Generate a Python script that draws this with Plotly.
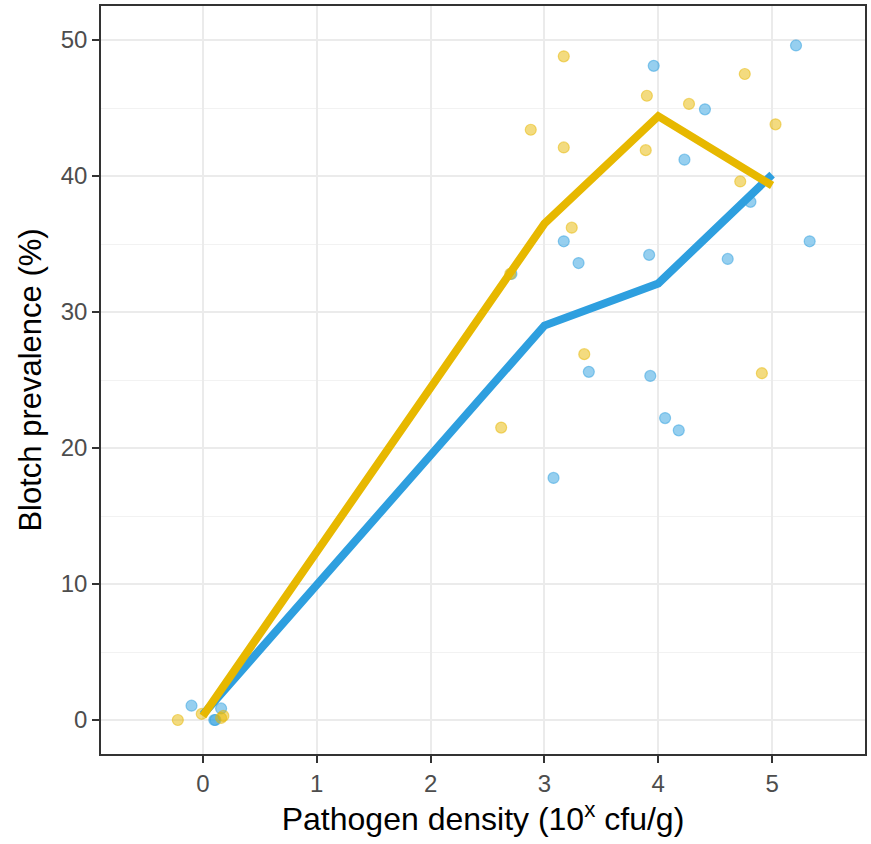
import plotly.graph_objects as go

# Line series (means)
line_x = [0, 3, 4, 5]
blue_line_y = [0.4, 29.0, 32.1, 40.1]
yellow_line_y = [0.3, 36.5, 44.4, 39.3]

# Jittered observations
blue_x = [-0.10, 0.10, 0.16, 0.11, 2.71, 3.08, 3.17, 3.30, 3.39, 3.92, 3.93, 3.96, 4.06, 4.18, 4.23, 4.41, 4.61, 4.81, 5.21, 5.33]
blue_y = [1.05, 0.0, 0.85, 0.0, 32.8, 17.8, 35.2, 33.6, 25.6, 34.2, 25.3, 48.1, 22.2, 21.3, 41.2, 44.9, 33.9, 38.1, 49.6, 35.2]

yellow_x = [-0.22, -0.01, 0.16, 0.18, 2.62, 2.70, 2.88, 3.17, 3.17, 3.24, 3.35, 3.89, 3.90, 4.27, 4.72, 4.76, 4.91, 5.03]
yellow_y = [0.0, 0.45, 0.15, 0.3, 21.5, 32.8, 43.4, 48.8, 42.1, 36.2, 26.9, 41.9, 45.9, 45.3, 39.6, 47.5, 25.5, 43.8]

x_ticks = [0, 1, 2, 3, 4, 5]
y_ticks = [0, 10, 20, 30, 40, 50]

BLUE_FILL = "rgba(46,159,223,0.5)"
YELLOW_FILL = "rgba(231,184,0,0.5)"
BLUE = "#2E9FDF"
YELLOW = "#E7B800"
FONT = "Liberation Sans, Arial, sans-serif"

fig = go.Figure()
fig.add_trace(go.Scatter(x=blue_x, y=blue_y, mode="markers",
                         marker=dict(color=BLUE_FILL, size=11,
                                     line=dict(color=BLUE_FILL, width=1.2)),
                         showlegend=False, hoverinfo="skip"))
fig.add_trace(go.Scatter(x=yellow_x, y=yellow_y, mode="markers",
                         marker=dict(color=YELLOW_FILL, size=11,
                                     line=dict(color=YELLOW_FILL, width=1.2)),
                         showlegend=False, hoverinfo="skip"))
fig.add_trace(go.Scatter(x=line_x, y=blue_line_y, mode="lines",
                         line=dict(color=BLUE, width=8), showlegend=False))
fig.add_trace(go.Scatter(x=line_x, y=yellow_line_y, mode="lines",
                         line=dict(color=YELLOW, width=8), showlegend=False))

axis_common = dict(
    showline=True, linecolor="#333333", linewidth=1.5, mirror=True,
    gridcolor="#EBEBEB", gridwidth=2, zeroline=False,
    ticks="outside", ticklen=7, tickcolor="#333333", tickwidth=1.5,
    tickfont=dict(family=FONT, size=24, color="#4D4D4D"),
)

fig.update_xaxes(range=[-0.895, 5.816], tickvals=x_ticks,
                 title=dict(text="Pathogen density (10<sup>x</sup> cfu/g)",
                            font=dict(family=FONT, size=32, color="black"),
                            standoff=10),
                 **axis_common)
fig.update_yaxes(range=[-2.5, 52.5], tickvals=y_ticks,
                 title=dict(text="Blotch prevalence (%)",
                            font=dict(family=FONT, size=31, color="black"),
                            standoff=10),
                 minor=dict(tickvals=[5, 15, 25, 35, 45], showgrid=True,
                            gridcolor="#F2F2F2", gridwidth=1, ticks=""),
                 **axis_common)

fig.update_layout(
    width=871, height=844,
    margin=dict(l=101, r=4, t=5, b=90),
    plot_bgcolor="white", paper_bgcolor="white",
    font=dict(family=FONT),
)

fig.write_html("out.html")
